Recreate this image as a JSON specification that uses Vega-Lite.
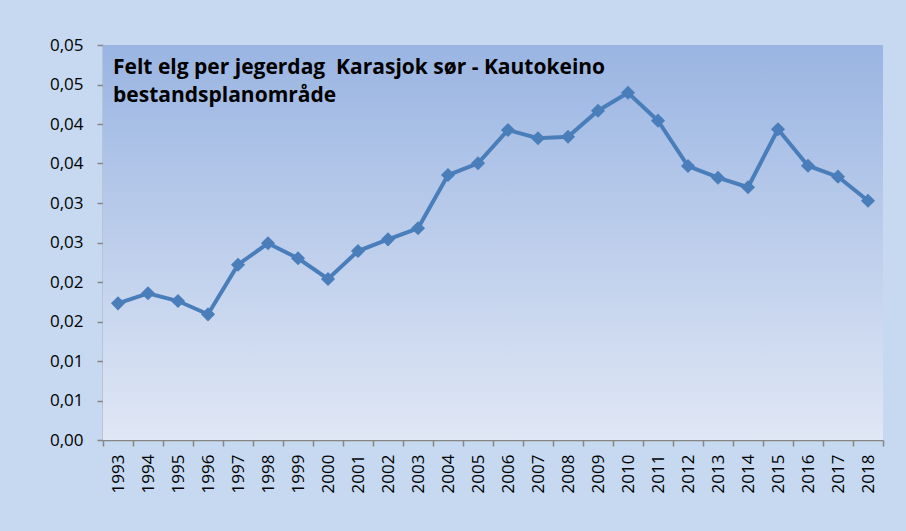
{
  "$schema": "https://vega.github.io/schema/vega-lite/v6.json",
  "width": 780,
  "height": 395,
  "autosize": {"type": "none"},
  "padding": {"left": 103, "top": 45, "right": 23, "bottom": 91},
  "background": "#C6D9F1",
  "config": {"view": {"stroke": null}, "font": "Open Sans"},
  "title": {
    "text": ["Felt elg per jegerdag \u00a0Karasjok sør - Kautokeino", "bestandsplanområde"],
    "anchor": "start",
    "frame": "group",
    "orient": "top",
    "offset": -70,
    "dx": 10,
    "fontSize": 21,
    "font": "Open Sans",
    "fontWeight": "bold",
    "color": "#000000",
    "lineHeight": 28
  },
  "layer": [
    {
      "data": {"values": [{"lo": 0, "hi": 0.05}]},
      "mark": {
        "type": "rect",
        "color": {
          "gradient": "linear",
          "x1": 0, "y1": 0, "x2": 0, "y2": 1,
          "stops": [
            {"offset": 0, "color": "#9AB5E2"},
            {"offset": 1, "color": "#E0E7F5"}
          ]
        }
      },
      "encoding": {
        "y": {
          "field": "lo",
          "type": "quantitative",
          "scale": {"domain": [0, 0.05], "nice": false},
          "axis": {
            "title": null,
            "values": [0, 0.005, 0.01, 0.015, 0.02, 0.025, 0.03, 0.035, 0.04, 0.045, 0.05],
            "labelExpr": "replace(format(datum.value + 0.0001, '.2f'), '.', ',')",
            "labelOverlap": false,
            "labelFontSize": 17,
            "labelFont": "Open Sans",
            "labelColor": "#000000",
            "labelPadding": 14,
            "tickSize": 6,
            "tickColor": "#868686",
            "tickWidth": 1.5,
            "domainColor": "#868686",
            "domainWidth": 1.5,
            "grid": false
          }
        },
        "y2": {"field": "hi"}
      }
    },
    {
      "data": {
        "values": [
          {"year": "1993", "value": 0.01730},
          {"year": "1994", "value": 0.01857},
          {"year": "1995", "value": 0.01759},
          {"year": "1996", "value": 0.01591},
          {"year": "1997", "value": 0.02219},
          {"year": "1998", "value": 0.02490},
          {"year": "1999", "value": 0.02300},
          {"year": "2000", "value": 0.02038},
          {"year": "2001", "value": 0.02392},
          {"year": "2002", "value": 0.02540},
          {"year": "2003", "value": 0.02680},
          {"year": "2004", "value": 0.03354},
          {"year": "2005", "value": 0.03503},
          {"year": "2006", "value": 0.03924},
          {"year": "2007", "value": 0.03819},
          {"year": "2008", "value": 0.03839},
          {"year": "2009", "value": 0.04168},
          {"year": "2010", "value": 0.04396},
          {"year": "2011", "value": 0.04042},
          {"year": "2012", "value": 0.03468},
          {"year": "2013", "value": 0.03320},
          {"year": "2014", "value": 0.03199},
          {"year": "2015", "value": 0.03933},
          {"year": "2016", "value": 0.03472},
          {"year": "2017", "value": 0.03333},
          {"year": "2018", "value": 0.03029}
        ]
      },
      "mark": {
        "type": "line",
        "color": "#4A7EBB",
        "strokeWidth": 4,
        "point": {"shape": "diamond", "size": 200, "filled": true, "color": "#4A7EBB", "opacity": 1}
      },
      "encoding": {
        "x": {
          "field": "year",
          "type": "ordinal",
          "scale": {"type": "band", "paddingInner": 0, "paddingOuter": 0},
          "axis": {
            "title": null,
            "labelAngle": -90,
            "labelFontSize": 17,
            "labelFont": "Open Sans",
            "labelColor": "#000000",
            "labelPadding": 8,
            "tickBand": "extent",
            "tickSize": 6,
            "tickColor": "#868686",
            "tickWidth": 1.5,
            "domainColor": "#868686",
            "domainWidth": 1.5,
            "grid": false
          }
        },
        "y": {
          "field": "value",
          "type": "quantitative",
          "scale": {"domain": [0, 0.05], "nice": false},
          "axis": {
            "title": null,
            "values": [0, 0.005, 0.01, 0.015, 0.02, 0.025, 0.03, 0.035, 0.04, 0.045, 0.05],
            "labelExpr": "replace(format(datum.value + 0.0001, '.2f'), '.', ',')",
            "labelOverlap": false,
            "labelFontSize": 17,
            "labelFont": "Open Sans",
            "labelColor": "#000000",
            "labelPadding": 14,
            "tickSize": 6,
            "tickColor": "#868686",
            "tickWidth": 1.5,
            "domainColor": "#868686",
            "domainWidth": 1.5,
            "grid": false
          }
        }
      }
    }
  ]
}
